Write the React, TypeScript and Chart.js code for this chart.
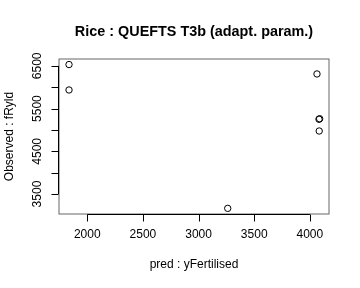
import React, { useEffect, useRef } from "react";
import { Chart, registerables } from "chart.js";

Chart.register(...registerables);

const titleText = "Rice : QUEFTS T3b (adapt. param.)";
const xTitle = "pred : yFertilised";
const yTitle = "Observed : fRyld";
const predX = [1836, 1836, 3262, 4064, 4082, 4088, 4084];
const observedY = [6530, 5935, 3165, 6310, 5250, 5262, 4975];
const xTicks = [2000, 2500, 3000, 3500, 4000];
const yTicks = [3500, 4000, 4500, 5000, 5500, 6000, 6500];
const yLabelTicks = [3500, 4500, 5500, 6500];

const FONT = '"Liberation Sans", Arial, Helvetica, sans-serif';

const rAxesPlugin = {
  id: "rAxes",
  afterDraw(chart: any) {
    const ctx = chart.ctx as CanvasRenderingContext2D;
    const xs = chart.scales.x;
    const ys = chart.scales.y;
    const a = chart.chartArea;
    ctx.save();
    // box
    ctx.strokeStyle = "#000";
    ctx.lineWidth = 1;
    ctx.globalAlpha = 0.6;
    ctx.strokeRect(a.left, a.top, a.right - a.left, a.bottom - a.top);
    ctx.globalAlpha = 1;
    // x axis
    ctx.beginPath();
    const x0 = xs.getPixelForValue(xTicks[0]);
    const x1 = xs.getPixelForValue(xTicks[xTicks.length - 1]);
    const by = Math.round(a.bottom) + 0.5;
    ctx.moveTo(x0, by);
    ctx.lineTo(x1, by);
    xTicks.forEach((t) => {
      const px = Math.round(xs.getPixelForValue(t)) + 0.5;
      ctx.moveTo(px, by);
      ctx.lineTo(px, by + 7);
    });
    // y axis
    const lx = Math.round(a.left) - 0.5;
    const y0 = ys.getPixelForValue(yTicks[0]);
    const y1 = ys.getPixelForValue(yTicks[yTicks.length - 1]);
    ctx.moveTo(lx, y0);
    ctx.lineTo(lx, y1);
    yTicks.forEach((t) => {
      const py = Math.round(ys.getPixelForValue(t)) + 0.5;
      ctx.moveTo(lx, py);
      ctx.lineTo(lx - 7, py);
    });
    ctx.strokeStyle = "#000";
    ctx.stroke();

    ctx.fillStyle = "#000";
    ctx.font = `12px ${FONT}`;
    ctx.textAlign = "center";
    ctx.textBaseline = "middle";
    xTicks.forEach((t) => {
      ctx.fillText(String(t), xs.getPixelForValue(t), 235);
    });
    yLabelTicks.forEach((t) => {
      ctx.save();
      ctx.translate(38, ys.getPixelForValue(t));
      ctx.rotate(-Math.PI / 2);
      ctx.fillText(String(t), 0, 0);
      ctx.restore();
    });
    // axis titles
    ctx.fillText(xTitle, (a.left + a.right) / 2, 265);
    ctx.save();
    ctx.translate(10, (a.top + a.bottom) / 2);
    ctx.rotate(-Math.PI / 2);
    ctx.fillText(yTitle, 0, 0);
    ctx.restore();
    // main title
    ctx.font = `bold 14.4px ${FONT}`;
    ctx.fillText(titleText, (a.left + a.right) / 2, 32);
    ctx.restore();
  },
};

export default function App() {
  const ref = useRef<HTMLCanvasElement | null>(null);
  useEffect(() => {
    if (!ref.current) return;
    const chart = new Chart(ref.current, {
      type: "scatter",
      data: {
        datasets: [
          {
            data: predX.map((x, i) => ({ x, y: observedY[i] })),
            pointStyle: "circle",
            pointRadius: 3.2,
            pointHoverRadius: 3.2,
            borderColor: "#000",
            backgroundColor: "rgba(0,0,0,0)",
            borderWidth: 1,
          },
        ],
      },
      options: {
        animation: false,
        responsive: false,
        maintainAspectRatio: false,
        layout: { padding: { left: 59, right: 31, top: 59, bottom: 74 } },
        plugins: { legend: { display: false }, tooltip: { enabled: false }, title: { display: false } },
        scales: {
          x: { type: "linear", min: 1746, max: 4172, display: false },
          y: { type: "linear", min: 3033, max: 6660, display: false },
        },
      },
      plugins: [rAxesPlugin],
    });
    return () => chart.destroy();
  }, []);
  return (
    <div style={{ position: "absolute", left: 0, top: 0, width: 360, height: 288, background: "#fff" }}>
      <canvas ref={ref} width={360} height={288} style={{ width: 360, height: 288 }} />
    </div>
  );
}
